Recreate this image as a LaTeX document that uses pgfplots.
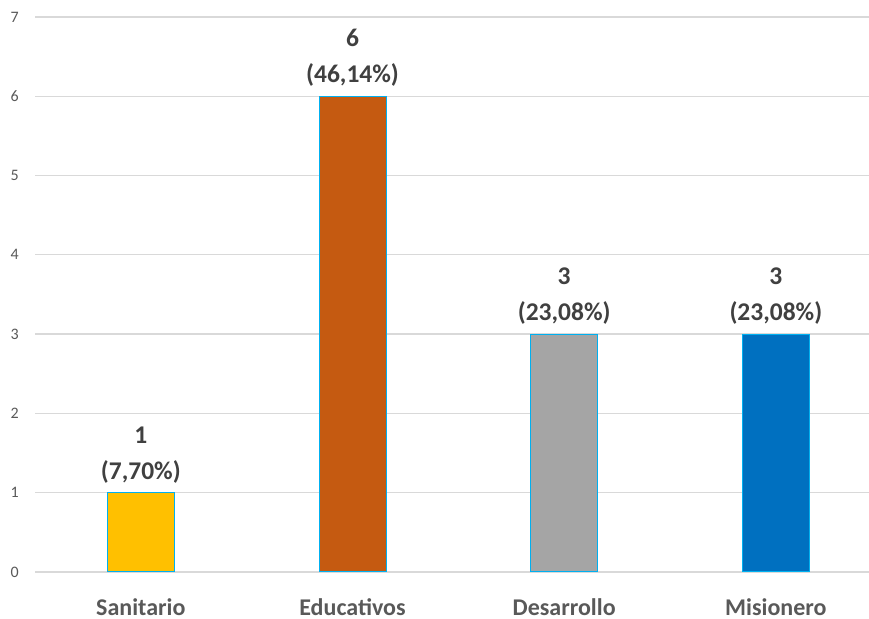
\documentclass[border=0pt]{standalone}
\usepackage{pgfplots}
\pgfplotsset{compat=1.18}
\usepackage{fontspec}
\setmainfont{Carlito}
\definecolor{gridc}{HTML}{D9D9D9}
\definecolor{txt}{HTML}{404040}
\definecolor{tick}{HTML}{595959}
\definecolor{edge}{HTML}{00B0F0}
\definecolor{c1}{HTML}{FFC000}
\definecolor{c2}{HTML}{C55A11}
\definecolor{c3}{HTML}{A5A5A5}
\definecolor{c4}{HTML}{0070C0}
\begin{document}
\begin{tikzpicture}
\begin{axis}[
  name=ax,
  scale only axis,
  width=834bp, height=555bp,
  xmin=-0.5, xmax=3.44,
  ymin=0, ymax=7,
  ybar, bar width=67bp, bar shift=0pt,
  axis line style={draw=none},
  tick style={draw=none},
  ymajorgrids=true,
  grid style={gridc, line width=1.3bp},
  ytick={0,1,...,7},
  xtick={0,1,2,3},
  xticklabels={Sanitario,Educativos,Desarrollo,Misionero},
  /pgf/number format/assume math mode=true,
  yticklabel style={font=\fontsize{16bp}{18bp}\selectfont, text=tick, anchor=east, inner sep=0pt, xshift=-16bp},
  xticklabel style={font=\fontsize{24bp}{26bp}\selectfont\bfseries, text=tick, anchor=base, inner sep=0pt, yshift=-39bp},
  every node near coord/.append style={font=\fontsize{25.5bp}{36bp}\selectfont\bfseries, text=txt, align=center, anchor=south, inner sep=0pt, yshift=9bp},
]
\addplot[fill=c1, draw=edge, line width=1bp, nodes near coords={1\\(7,70\%)}] coordinates {(0,1)};
\addplot[fill=c2, draw=edge, line width=1bp, nodes near coords={6\\(46,14\%)}] coordinates {(1,6)};
\addplot[fill=c3, draw=edge, line width=1bp, nodes near coords={3\\(23,08\%)}] coordinates {(2,3)};
\addplot[fill=c4, draw=edge, line width=1bp, nodes near coords={3\\(23,08\%)}] coordinates {(3,3)};
\end{axis}
\pgfresetboundingbox
\path ([xshift=-35bp,yshift=-47bp]ax.south west) rectangle ([yshift=17bp]ax.north east);
\end{tikzpicture}
\end{document}
